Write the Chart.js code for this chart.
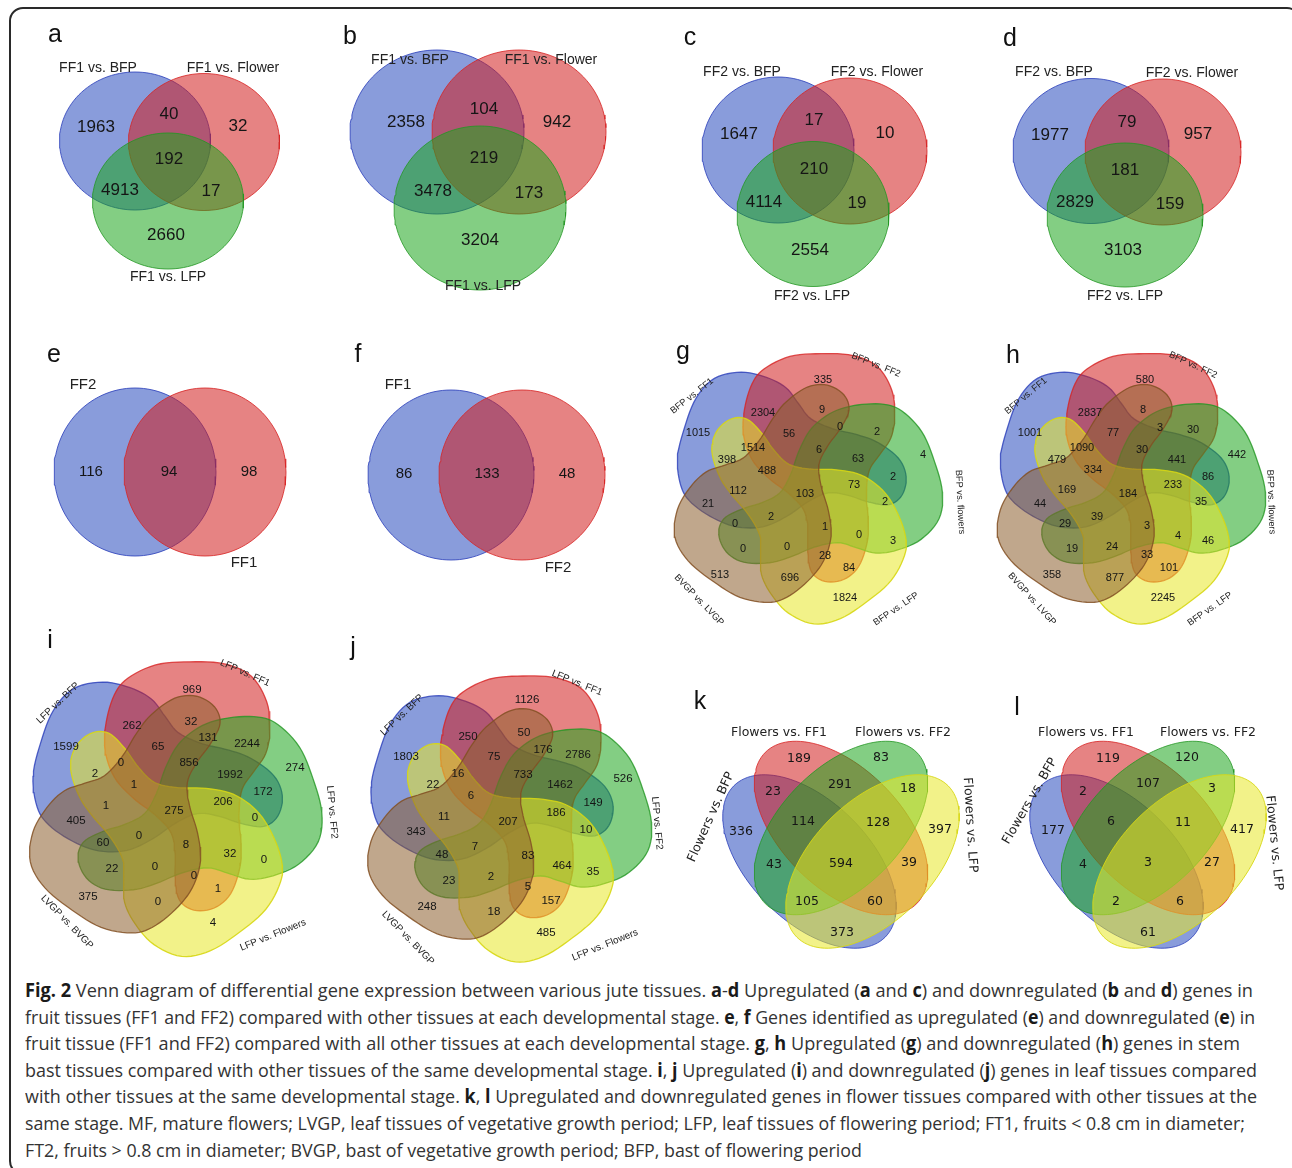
<!DOCTYPE html>
<html>
<head>
<meta charset="utf-8">
<script src="https://cdn.jsdelivr.net/npm/chart.js@4.4.0/dist/chart.umd.min.js"></script>
<style>
  body { margin: 0; width: 1292px; height: 1168px; background: #fff; position: relative; overflow: hidden; }
  #frame { position: absolute; left: 9px; top: 7px; width: 1292px; height: 1168px; border: 2px solid #2a2a2a; border-radius: 14px; box-sizing: border-box; }
  .panel { position: absolute; }
  .cap { position: absolute; left: 25px; white-space: nowrap; font-family: "Open Sans", sans-serif; font-size: 19px; line-height: 26px; color: #333; transform-origin: 0 50%; }
  .cap b { color: #1a1a1a; }
</style>
</head>
<body>
<div id="frame"></div>
<div id="panels"></div>
<div id="caption"></div>
<script>
// ---- values ----
const setsA = ['FF1 vs. BFP', 'FF1 vs. Flower', 'FF1 vs. LFP'];
const countsA = [1963, 40, 32, 192, 4913, 17, 2660];
const setsB = ['FF1 vs. BFP', 'FF1 vs. Flower', 'FF1 vs. LFP'];
const countsB = [2358, 104, 942, 219, 3478, 173, 3204];
const setsC = ['FF2 vs. BFP', 'FF2 vs. Flower', 'FF2 vs. LFP'];
const countsC = [1647, 17, 10, 210, 4114, 19, 2554];
const setsD = ['FF2 vs. BFP', 'FF2 vs. Flower', 'FF2 vs. LFP'];
const countsD = [1977, 79, 957, 181, 2829, 159, 3103];
const setsE = ['FF2', 'FF1'];
const countsE = [116, 94, 98];
const setsF = ['FF1', 'FF2'];
const countsF = [86, 133, 48];
const setsG = ['BFP vs. FF1', 'BFP vs. FF2', 'BFP vs. flowers', 'BFP vs. LFP', 'BVGP vs. LVGP'];
const countsG = [335, 2304, 9, 1015, 56, 0, 2, 1514, 6, 398, 63, 4, 488, 2, 112, 103, 73, 21, 2, 2, 0, 1, 0, 3, 0, 0, 28, 84, 513, 696, 1824];
const setsH = ['BFP vs. FF1', 'BFP vs. FF2', 'BFP vs. flowers', 'BFP vs. LFP', 'BVGP vs. LVGP'];
const countsH = [580, 2837, 8, 1001, 77, 3, 30, 1090, 30, 442, 479, 441, 334, 86, 233, 169, 184, 35, 44, 29, 39, 3, 4, 46, 19, 24, 33, 101, 358, 877, 2245];
const setsI = ['LFP vs. BFP', 'LFP vs. FF1', 'LFP vs. FF2', 'LFP vs. Flowers', 'LVGP vs. BVGP'];
const countsI = [969, 262, 32, 1599, 65, 131, 2244, 0, 856, 274, 2, 1992, 1, 172, 206, 1, 275, 405, 0, 0, 60, 8, 32, 0, 22, 0, 0, 1, 375, 0, 4];
const setsJ = ['LFP vs. BFP', 'LFP vs. FF1', 'LFP vs. FF2', 'LFP vs. Flowers', 'LVGP vs. BVGP'];
const countsJ = [1126, 250, 50, 1803, 75, 176, 2786, 16, 733, 526, 22, 1462, 6, 149, 186, 11, 207, 343, 10, 7, 48, 83, 464, 35, 23, 2, 5, 157, 248, 18, 485];
const setsK = ['Flowers vs. FF1', 'Flowers vs. FF2', 'Flowers vs. BFP', 'Flowers vs. LFP'];
const countsK = [189, 83, 23, 291, 18, 336, 114, 128, 397, 43, 594, 39, 105, 60, 373];
const setsL = ['Flowers vs. FF1', 'Flowers vs. FF2', 'Flowers vs. BFP', 'Flowers vs. LFP'];
const countsL = [119, 120, 2, 107, 3, 177, 6, 11, 417, 4, 3, 27, 2, 6, 61];

// ---- layout (page pixels) ----
const posA = [[96,127],[169,114],[238,126],[169,159],[120,190],[211,191],[166,235]];
const posB = [[406,122],[484,109],[557,122],[484,158],[433,191],[529,193],[480,240]];
const posC = [[739,134],[814,120],[885,133],[814,169],[764,202],[857,203],[810,250]];
const posD = [[1050,135],[1127,122],[1198,134],[1125,170],[1075,202],[1170,204],[1123,250]];
const posE = [[91,472],[169,472],[249,472]];
const posF = [[404,474],[487,474],[567,474]];
const posG = [[823,380],[763,413],[822,410],[698,433],[789,434],[840,427],[877,432],[753,448],[819,450],[727,460],[858,459],[923,455],[767,471],[893,477],[738,491],[805,494],[854,485],[708,504],[885,502],[771,517],[735,524],[825,527],[859,535],[893,541],[743,549],[787,547],[825,556],[849,568],[720,575],[790,578],[845,598]];
const posH = [[1145,380],[1090,413],[1143,410],[1030,433],[1113,433],[1160,428],[1193,430],[1082,448],[1142,450],[1237,455],[1057,460],[1177,460],[1093,470],[1208,477],[1173,485],[1067,490],[1128,494],[1201,502],[1040,504],[1065,524],[1097,517],[1147,526],[1178,536],[1208,541],[1072,549],[1112,547],[1147,555],[1169,568],[1052,575],[1115,578],[1163,598]];
const posI = [[192,690],[132,726],[191,722],[66,747],[158,747],[208,738],[247,744],[121,763],[189,763],[295,768],[95,774],[230,775],[134,785],[263,792],[223,802],[106,806],[174,811],[76,821],[255,818],[139,836],[103,843],[186,845],[230,854],[264,860],[112,869],[155,867],[194,876],[218,889],[88,897],[158,902],[213,923]];
const posJ = [[527,700],[468,737],[524,733],[406,757],[494,757],[543,750],[578,755],[458,774],[523,775],[623,779],[433,785],[560,785],[471,796],[593,803],[556,813],[444,817],[508,822],[416,832],[586,830],[475,847],[442,855],[528,856],[562,866],[593,872],[449,881],[491,877],[528,887],[551,901],[427,907],[494,912],[546,933]];
const posK = [[799,759],[881,758],[773,792],[840,785],[908,789],[741,832],[803,822],[878,823],[940,830],[774,865],[841,864],[909,863],[807,902],[875,902],[842,933]];
const posL = [[1108,759],[1187,758],[1083,792],[1148,784],[1212,789],[1053,831],[1111,822],[1183,823],[1242,830],[1083,865],[1148,863],[1212,863],[1116,902],[1180,902],[1148,933]];

const FILL = { blue: 'rgba(40,75,190,0.55)', red: 'rgba(210,30,30,0.55)', green: 'rgba(30,165,30,0.55)', yellow: 'rgba(232,232,40,0.55)', brown: 'rgba(140,95,45,0.55)' };
const LINE = { blue: 'rgba(40,60,185,0.8)', red: 'rgba(215,35,35,0.8)', green: 'rgba(35,150,35,0.8)', yellow: 'rgba(215,215,20,0.9)', brown: 'rgba(130,80,35,0.85)' };

// one 5-set blob, head pointing up, relative to the centre of the figure
const blobBase = [[18,-139],[52,-137],[78,-125],[93,-100],[96,-73],[92,-50],[80,-32],[69,-15],[66,10],[68,37],[67,60],[58,86],[42,100],[22,102],[8,92],[4,71],[4,48],[0,27],[-15,10],[-37,-7],[-55,-27],[-64,-53],[-63,-80],[-55,-107],[-42,-123],[-15,-136]];

function ellipse(cx, cy, rx, ry, rot) {
  const a = rot * Math.PI / 180, pts = [];
  for (let i = 0; i <= 120; i++) {
    const t = i / 120 * 2 * Math.PI;
    const ex = rx * Math.cos(t), ey = ry * Math.sin(t);
    pts.push({ x: cx + ex * Math.cos(a) - ey * Math.sin(a), y: cy + ex * Math.sin(a) + ey * Math.cos(a) });
  }
  return pts;
}

function blob(cx, cy, s, rot) {
  const a = rot * Math.PI / 180;
  const P = blobBase.map(([x, y]) => [x * Math.cos(a) + y * Math.sin(a), -x * Math.sin(a) + y * Math.cos(a)]);
  const n = P.length, pts = [];
  const cr = (a0, a1, a2, a3, t) => 0.5 * (2 * a1 + (a2 - a0) * t + (2 * a0 - 5 * a1 + 4 * a2 - a3) * t * t + (3 * a1 - a0 - 3 * a2 + a3) * t * t * t);
  for (let i = 0; i < n; i++) {
    const p0 = P[(i - 1 + n) % n], p1 = P[i], p2 = P[(i + 1) % n], p3 = P[(i + 2) % n];
    for (let k = 0; k < 6; k++) {
      const t = k / 6;
      pts.push({ x: cx + s * cr(p0[0], p1[0], p2[0], p3[0], t), y: cy + s * cr(p0[1], p1[1], p2[1], p3[1], t) });
    }
  }
  pts.push(pts[0]);
  return pts;
}

// shapes listed bottom to top
function fiveSet(cx, cy, s) {
  return [['blue', blob(cx, cy, s, 72)], ['red', blob(cx, cy, s, 0)], ['green', blob(cx, cy, s, -72)],
          ['yellow', blob(cx, cy, s, -144)], ['brown', blob(cx, cy, s, 144)]];
}

function fourSet(dx) {
  return [['blue', ellipse(809.5 + dx, 861.5, 107, 60, 45)], ['red', ellipse(841 + dx, 828, 107, 60, 45)],
          ['green', ellipse(841 + dx, 828, 107, 60, -45)], ['yellow', ellipse(872.5 + dx, 861.5, 107, 60, -45)]];
}

const SANS = '"Liberation Sans", Arial, sans-serif';
const DEJA = '"DejaVu Sans", sans-serif';

const panels = [
  { box: [12, 12, 320, 305], letter: ['a', 55, 35], sets: setsA, setPos: [[98,68,0],[233,68,0],[168,277,0]], setFont: '14px ' + SANS,
    counts: countsA, pos: posA, numFont: '17px ' + SANS, lw: 1,
    shapes: [['blue', ellipse(135, 141, 75.5, 69, 0)], ['red', ellipse(204, 142, 75.5, 68.5, 0)], ['green', ellipse(168, 201, 75.5, 68, 0)]] },
  { box: [332, 12, 320, 305], letter: ['b', 350, 37], sets: setsB, setPos: [[410,60,0],[551,60,0],[483,286,0]], setFont: '14px ' + SANS,
    counts: countsB, pos: posB, numFont: '17px ' + SANS, lw: 1,
    shapes: [['blue', ellipse(437, 132, 87, 82, 0)], ['red', ellipse(519, 132, 87, 82, 0)], ['green', ellipse(480, 208, 86, 82, 0)]] },
  { box: [652, 12, 318, 305], letter: ['c', 690, 38], sets: setsC, setPos: [[742,72,0],[877,72,0],[812,296,0]], setFont: '14px ' + SANS,
    counts: countsC, pos: posC, numFont: '17px ' + SANS, lw: 1,
    shapes: [['blue', ellipse(778, 150, 76, 73, 0)], ['red', ellipse(850, 151, 77, 73, 0)], ['green', ellipse(813, 214, 76, 72.5, 0)]] },
  { box: [970, 12, 320, 305], letter: ['d', 1010, 39], sets: setsD, setPos: [[1054,72,0],[1192,73,0],[1125,296,0]], setFont: '14px ' + SANS,
    counts: countsD, pos: posD, numFont: '17px ' + SANS, lw: 1,
    shapes: [['blue', ellipse(1091, 151, 78, 72.5, 0)], ['red', ellipse(1163, 152, 78, 73, 0)], ['green', ellipse(1125, 215, 78, 72, 0)]] },
  { box: [12, 330, 320, 300], letter: ['e', 54, 355], sets: setsE, setPos: [[83,385,0],[244,563,0]], setFont: '15px ' + SANS,
    counts: countsE, pos: posE, numFont: '15px ' + SANS, lw: 1,
    shapes: [['blue', ellipse(135, 472, 81, 84, 0)], ['red', ellipse(205, 472, 81, 84, 0)]] },
  { box: [332, 330, 320, 300], letter: ['f', 358, 355], sets: setsF, setPos: [[398,385,0],[558,568,0]], setFont: '15px ' + SANS,
    counts: countsF, pos: posF, numFont: '15px ' + SANS, lw: 1,
    shapes: [['blue', ellipse(451, 475, 83, 85, 0)], ['red', ellipse(522, 475, 83, 85, 0)]] },
  { box: [652, 328, 325, 312], letter: ['g', 683, 352], sets: setsG, setPos: [[692,396,-38],[876,365,22],[960,502,87],[896,609,-34],[699,600,46]], setFont: '9.3px ' + SANS,
    counts: countsG, pos: posG, numFont: '11px ' + SANS, lw: 1.3, shapes: fiveSet(804, 485, 0.945) },
  { box: [977, 328, 313, 312], letter: ['h', 1013, 356], sets: setsH, setPos: [[1026,396,-40],[1193,365,25],[1271,502,88],[1210,609,-35],[1032,599,48]], setFont: '9.3px ' + SANS,
    counts: countsH, pos: posH, numFont: '11px ' + SANS, lw: 1.3, shapes: fiveSet(1127, 485, 0.945) },
  { box: [12, 628, 335, 337], letter: ['i', 50, 641], sets: setsI, setPos: [[58,703,-44],[245,673,24],[332,812,85],[273,935,-22],[67,922,46]], setFont: '9.8px ' + SANS,
    counts: countsI, pos: posI, numFont: '11.5px ' + SANS, lw: 1.3, shapes: fiveSet(171, 805, 1.03) },
  { box: [347, 628, 335, 337], letter: ['j', 353, 648], sets: setsJ, setPos: [[402,715,-44],[577,683,22],[657,823,85],[605,945,-22],[408,938,46]], setFont: '9.8px ' + SANS,
    counts: countsJ, pos: posJ, numFont: '11.5px ' + SANS, lw: 1.3, shapes: fiveSet(505, 815, 1.0) },
  { box: [682, 680, 305, 283], letter: ['k', 700, 702], sets: setsK, setPos: [[779,733,0],[903,733,0],[711,817,-66],[970,825,86.5]], setFont: '12.5px ' + DEJA,
    counts: countsK, pos: posK, numFont: '12.5px ' + DEJA, lw: 1, shapes: fourSet(0) },
  { box: [987, 680, 303, 283], letter: ['l', 1017, 708], sets: setsL, setPos: [[1086,733,0],[1208,733,0],[1030,801,-60],[1274,843,84.5]], setFont: '12.5px ' + DEJA,
    counts: countsL, pos: posL, numFont: '12.5px ' + DEJA, lw: 1, shapes: fourSet(307) }
];

function textPlugin(items) {
  return {
    id: 'vennText',
    afterDatasetsDraw(chart) {
      const { ctx, scales: { x, y } } = chart;
      items.forEach(t => {
        ctx.save();
        ctx.translate(x.getPixelForValue(t.x), y.getPixelForValue(t.y));
        if (t.rot) ctx.rotate(t.rot * Math.PI / 180);
        ctx.font = t.font;
        ctx.fillStyle = t.color;
        ctx.textAlign = 'center';
        ctx.textBaseline = 'middle';
        ctx.fillText(t.text, 0, 0);
        ctx.restore();
      });
    }
  };
}

const holder = document.getElementById('panels');
panels.forEach(p => {
  const [bx, by, bw, bh] = p.box;
  const div = document.createElement('div');
  div.className = 'panel';
  div.style.cssText = `left:${bx}px;top:${by}px;width:${bw}px;height:${bh}px`;
  const canvas = document.createElement('canvas');
  canvas.width = bw; canvas.height = bh;
  canvas.style.width = bw + 'px'; canvas.style.height = bh + 'px';
  div.appendChild(canvas);
  holder.appendChild(div);

  const items = [{ text: p.letter[0], x: p.letter[1], y: p.letter[2], font: '25px ' + SANS, color: '#111' }];
  p.sets.forEach((s, i) => items.push({ text: s, x: p.setPos[i][0], y: p.setPos[i][1], rot: p.setPos[i][2], font: p.setFont, color: '#222' }));
  p.counts.forEach((c, i) => items.push({ text: String(c), x: p.pos[i][0], y: p.pos[i][1], font: p.numFont, color: '#151515' }));

  // Chart.js paints dataset 0 last (on top), so hand the shapes over top-first
  const datasets = p.shapes.map(([col, pts]) => ({
    data: pts,
    fill: 'shape',
    backgroundColor: FILL[col],
    borderColor: LINE[col],
    borderWidth: p.lw,
    pointRadius: 0,
    pointHitRadius: 0,
    tension: 0
  })).reverse();

  new Chart(canvas, {
    type: 'line',
    data: { datasets },
    options: {
      responsive: false,
      animation: false,
      events: [],
      layout: { padding: 0 },
      plugins: { legend: { display: false }, tooltip: { enabled: false } },
      scales: {
        x: { type: 'linear', display: false, min: bx, max: bx + bw },
        y: { type: 'linear', display: false, min: by, max: by + bh, reverse: true }
      }
    },
    plugins: [textPlugin(items)]
  });
});

// ---- caption ----
const capLines = [
  '<b>Fig. 2</b> Venn diagram of differential gene expression between various jute tissues. <b>a</b>-<b>d</b> Upregulated (<b>a</b> and <b>c</b>) and downregulated (<b>b</b> and <b>d</b>) genes in',
  'fruit tissues (FF1 and FF2) compared with other tissues at each developmental stage. <b>e</b>, <b>f</b> Genes identified as upregulated (<b>e</b>) and downregulated (<b>e</b>) in',
  'fruit tissue (FF1 and FF2) compared with all other tissues at each developmental stage. <b>g</b>, <b>h</b> Upregulated (<b>g</b>) and downregulated (<b>h</b>) genes in stem',
  'bast tissues compared with other tissues of the same developmental stage. <b>i</b>, <b>j</b> Upregulated (<b>i</b>) and downregulated (<b>j</b>) genes in leaf tissues compared',
  'with other tissues at the same developmental stage. <b>k</b>, <b>l</b> Upregulated and downregulated genes in flower tissues compared with other tissues at the',
  'same stage. MF, mature flowers; LVGP, leaf tissues of vegetative growth period; LFP, leaf tissues of flowering period; FT1, fruits &lt; 0.8 cm in diameter;',
  'FT2, fruits &gt; 0.8 cm in diameter; BVGP, bast of vegetative growth period; BFP, bast of flowering period'
];
const capEnds = [1253, 1255, 1240, 1257, 1257, 1245, 862];
const cap = document.getElementById('caption');
capLines.forEach((html, i) => {
  const d = document.createElement('div');
  d.className = 'cap';
  d.style.top = (977 + i * 26.6) + 'px';
  d.innerHTML = html;
  cap.appendChild(d);
});
function fitCaption() {
  document.querySelectorAll('.cap').forEach((el, i) => {
    el.style.transform = 'none';
    const w = el.getBoundingClientRect().width;
    el.style.transform = `scaleX(${(capEnds[i] - 25) / w})`;
  });
}
fitCaption();
if (document.fonts) document.fonts.ready.then(fitCaption);
</script>
</body>
</html>
